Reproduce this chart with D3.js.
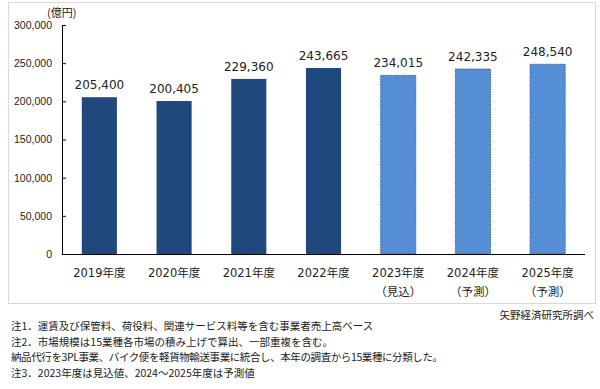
<!DOCTYPE html>
<html>
<head>
<meta charset="utf-8">
<script src="https://cdn.jsdelivr.net/npm/d3@7.9.0/dist/d3.min.js"></script>
<style>
  body { margin: 0; background: #fff; }
  svg { display: block; font-family: "DejaVu Sans", "Noto Sans CJK JP", sans-serif; }
</style>
</head>
<body>
<svg id="chart" width="600" height="389"></svg>
<script>
const years = ['2019年度', '2020年度', '2021年度', '2022年度', '2023年度', '2024年度', '2025年度'];
const subLabels = ['', '', '', '', '（見込）', '（予測）', '（予測）'];
const values = [205400, 200405, 229360, 243665, 234015, 242335, 248540];
const isForecast = [false, false, false, false, true, true, true];
const yTicks = [0, 50000, 100000, 150000, 200000, 250000, 300000];
const notes = [
  '注1．運賃及び保管料、荷役料、関連サービス料等を含む事業者売上高ベース',
  '注2．市場規模は15業種各市場の積み上げで算出、一部重複を含む。',
  '納品代行を3PL事業、バイク便を軽貨物輸送事業に統合し、本年の調査から15業種に分類した。',
  '注3．2023年度は見込値、2024～2025年度は予測値'
];

const svg = d3.select('#chart');
const plotLeft = 62, plotRight = 585, plotTop = 25, plotBottom = 254;

// chart frame
svg.append('rect')
  .attr('x', 8.5).attr('y', 2.5)
  .attr('width', 587).attr('height', 301)
  .attr('fill', 'none')
  .attr('stroke', '#d9d9d9');

const x = d3.scaleBand().domain(years).range([plotLeft, plotRight]).paddingInner(0.53).paddingOuter(0.265);
const y = d3.scaleLinear().domain([0, 300000]).range([plotBottom, plotTop]);

// y axis (ticks inward)
const yAxis = svg.append('g')
  .attr('transform', `translate(${plotLeft},0)`)
  .call(d3.axisLeft(y).tickValues(yTicks).tickSizeInner(-4).tickSizeOuter(0).tickPadding(10)
    .tickFormat(d3.format(',')));
yAxis.select('.domain').attr('stroke', '#000');
yAxis.selectAll('.tick line').attr('stroke', '#000');
yAxis.selectAll('text').attr('font-size', 10.5).attr('fill', '#222');

svg.append('text')
  .attr('x', 47).attr('y', 17)
  .attr('font-size', 11)
  .attr('font-family', '"Noto Sans CJK JP", sans-serif')
  .attr('fill', '#222')
  .text('(億円)');

// bars
svg.selectAll('rect.bar')
  .data(values)
  .join('rect')
  .attr('class', 'bar')
  .attr('x', (d, i) => x(years[i]))
  .attr('y', d => y(d))
  .attr('width', x.bandwidth())
  .attr('height', d => y(0) - y(d))
  .attr('fill', (d, i) => isForecast[i] ? '#558ed5' : '#1f497d')
  .attr('stroke', (d, i) => isForecast[i] ? '#2f5f9e' : 'none')
  .attr('stroke-dasharray', '1.5,1');

// value labels
svg.selectAll('text.val')
  .data(values)
  .join('text')
  .attr('class', 'val')
  .attr('x', (d, i) => x(years[i]) + x.bandwidth() / 2)
  .attr('y', d => y(d) - 8)
  .attr('text-anchor', 'middle')
  .attr('font-size', 12)
  .attr('fill', '#222')
  .text(d => d3.format(',')(d));

// x baseline
svg.append('line')
  .attr('x1', plotLeft).attr('x2', plotRight)
  .attr('y1', plotBottom + 0.5).attr('y2', plotBottom + 0.5)
  .attr('stroke', '#000');

// category labels
const cat = svg.selectAll('g.cat')
  .data(years)
  .join('g')
  .attr('class', 'cat')
  .attr('transform', d => `translate(${x(d) + x.bandwidth() / 2},0)`);
cat.append('text')
  .attr('y', 277)
  .attr('text-anchor', 'middle')
  .attr('font-size', 11.5)
  .attr('fill', '#222')
  .text(d => d);
cat.append('text')
  .attr('y', 296)
  .attr('text-anchor', 'middle')
  .attr('font-size', 11.5)
  .attr('font-family', '"Noto Sans CJK JP", sans-serif')
  .attr('fill', '#222')
  .text((d, i) => subLabels[i]);

// source + notes
svg.append('text')
  .attr('x', 594).attr('y', 319)
  .attr('text-anchor', 'end')
  .attr('font-size', 10.5)
  .attr('font-family', '"Noto Sans CJK JP", sans-serif')
  .attr('fill', '#222')
  .text('矢野経済研究所調べ');

svg.selectAll('text.note')
  .data(notes)
  .join('text')
  .attr('class', 'note')
  .attr('x', 11)
  .attr('y', (d, i) => 330 + i * 15.5)
  .attr('font-size', 10.5)
  .attr('font-family', '"Noto Sans CJK JP", sans-serif')
  .attr('letter-spacing', (d, i) => i === 2 ? -0.4 : 0)
  .attr('fill', '#222')
  .text(d => d);
</script>
</body>
</html>
